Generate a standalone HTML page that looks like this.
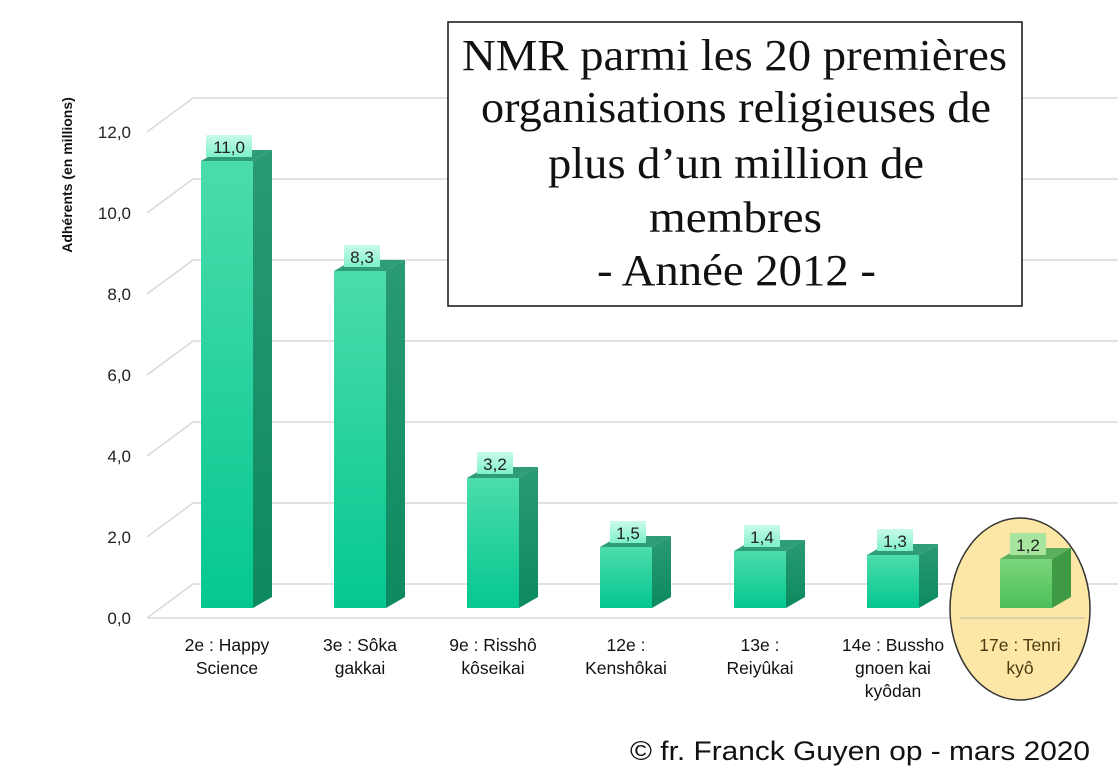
<!DOCTYPE html>
<html><head><meta charset="utf-8"><style>
body{margin:0;background:#fff;width:1118px;height:778px;overflow:hidden}
svg{display:block}
</style></head><body>
<svg width="1118" height="778" xmlns="http://www.w3.org/2000/svg" font-family="Liberation Sans, Arial, sans-serif">
<defs>
<linearGradient id="f" x1="0" y1="0" x2="0" y2="1"><stop offset="0" stop-color="#4cdcac"/><stop offset="1" stop-color="#04c78f"/></linearGradient>
<linearGradient id="s" x1="0" y1="0" x2="0" y2="1"><stop offset="0" stop-color="#2a9a74"/><stop offset="1" stop-color="#0c8a60"/></linearGradient>
<linearGradient id="g" x1="0" y1="0" x2="0" y2="1"><stop offset="0" stop-color="#7ad57a"/><stop offset="1" stop-color="#4dbf5a"/></linearGradient>
<linearGradient id="lb" x1="0" y1="0" x2="0" y2="1"><stop offset="0" stop-color="#c8fbea"/><stop offset="1" stop-color="#7ff0cc"/></linearGradient>
</defs>
<g stroke="#d9d9d9" stroke-width="1.5" fill="none">
<line x1="193" y1="584" x2="1118" y2="584"/><line x1="147" y1="618" x2="193" y2="584"/>
<line x1="193" y1="503" x2="1118" y2="503"/><line x1="147" y1="537" x2="193" y2="503"/>
<line x1="193" y1="422" x2="1118" y2="422"/><line x1="147" y1="456" x2="193" y2="422"/>
<line x1="193" y1="341" x2="1118" y2="341"/><line x1="147" y1="375" x2="193" y2="341"/>
<line x1="193" y1="260" x2="1118" y2="260"/><line x1="147" y1="294" x2="193" y2="260"/>
<line x1="193" y1="179" x2="1118" y2="179"/><line x1="147" y1="213" x2="193" y2="179"/>
<line x1="193" y1="98" x2="1118" y2="98"/><line x1="147" y1="132" x2="193" y2="98"/>
<line x1="147" y1="618" x2="1085" y2="618"/>
</g>
<g font-size="17" fill="#222" text-anchor="end">
<text x="131" y="624">0,0</text><text x="131" y="543">2,0</text><text x="131" y="462">4,0</text>
<text x="131" y="381">6,0</text><text x="131" y="300">8,0</text><text x="131" y="219">10,0</text><text x="131" y="138">12,0</text>
</g>
<text transform="translate(72,175) rotate(-90)" font-size="14" font-weight="bold" text-anchor="middle" fill="#111">Adhérents (en millions)</text>
<ellipse cx="1020" cy="609" rx="70" ry="91" fill="#fde7a6" stroke="#333" stroke-width="1.5"/>
<line x1="960" y1="618" x2="1085" y2="618" stroke="#d0c8a8" stroke-width="1.5"/>

<polygon points="253,161 272,150 272,597 253,608" fill="url(#s)"/>
<polygon points="201,161 220,150 272,150 253,161" fill="#2f9e78"/>
<rect x="201" y="161" width="52" height="447" fill="url(#f)"/>
<rect x="206" y="135" width="46" height="22" fill="url(#lb)"/>
<text x="229" y="153" font-size="17" text-anchor="middle" fill="#222">11,0</text>

<polygon points="386,271 405,260 405,597 386,608" fill="url(#s)"/>
<polygon points="334,271 353,260 405,260 386,271" fill="#2f9e78"/>
<rect x="334" y="271" width="52" height="337" fill="url(#f)"/>
<rect x="344" y="245" width="36" height="22" fill="url(#lb)"/>
<text x="362" y="263" font-size="17" text-anchor="middle" fill="#222">8,3</text>

<polygon points="519,478 538,467 538,597 519,608" fill="url(#s)"/>
<polygon points="467,478 486,467 538,467 519,478" fill="#2f9e78"/>
<rect x="467" y="478" width="52" height="130" fill="url(#f)"/>
<rect x="477" y="452" width="36" height="22" fill="url(#lb)"/>
<text x="495" y="470" font-size="17" text-anchor="middle" fill="#222">3,2</text>

<polygon points="652,547 671,536 671,597 652,608" fill="url(#s)"/>
<polygon points="600,547 619,536 671,536 652,547" fill="#2f9e78"/>
<rect x="600" y="547" width="52" height="61" fill="url(#f)"/>
<rect x="610" y="521" width="36" height="22" fill="url(#lb)"/>
<text x="628" y="539" font-size="17" text-anchor="middle" fill="#222">1,5</text>

<polygon points="786,551 805,540 805,597 786,608" fill="url(#s)"/>
<polygon points="734,551 753,540 805,540 786,551" fill="#2f9e78"/>
<rect x="734" y="551" width="52" height="57" fill="url(#f)"/>
<rect x="744" y="525" width="36" height="22" fill="url(#lb)"/>
<text x="762" y="543" font-size="17" text-anchor="middle" fill="#222">1,4</text>

<polygon points="919,555 938,544 938,597 919,608" fill="url(#s)"/>
<polygon points="867,555 886,544 938,544 919,555" fill="#2f9e78"/>
<rect x="867" y="555" width="52" height="53" fill="url(#f)"/>
<rect x="877" y="529" width="36" height="22" fill="url(#lb)"/>
<text x="895" y="547" font-size="17" text-anchor="middle" fill="#222">1,3</text>

<polygon points="1052,559 1071,548 1071,597 1052,608" fill="#3f9a44"/>
<polygon points="1000,559 1019,548 1071,548 1052,559" fill="#5ab05e"/>
<rect x="1000" y="559" width="52" height="49" fill="url(#g)"/>
<rect x="1010" y="533" width="36" height="22" fill="#a8e6a0"/>
<text x="1028" y="551" font-size="17" text-anchor="middle" fill="#222">1,2</text>

<g font-size="17.5" fill="#111" text-anchor="middle">
<text x="227" y="651">2e : Happy</text><text x="227" y="674">Science</text>
<text x="360" y="651">3e : Sôka</text><text x="360" y="674">gakkai</text>
<text x="493" y="651">9e : Risshô</text><text x="493" y="674">kôseikai</text>
<text x="626" y="651">12e :</text><text x="626" y="674">Kenshôkai</text>
<text x="760" y="651">13e :</text><text x="760" y="674">Reiyûkai</text>
<text x="893" y="651">14e : Bussho</text><text x="893" y="674">gnoen kai</text><text x="893" y="697">kyôdan</text>
<text x="1020" y="651" fill="#4a3a10">17e : Tenri</text><text x="1020" y="674" fill="#4a3a10">kyô</text>
</g>
<rect x="448" y="22" width="574" height="284" fill="#fff" stroke="#111" stroke-width="1.5"/>
<g font-family="Liberation Serif, serif" font-size="44" fill="#111">
<text x="462" y="70" textLength="545" lengthAdjust="spacingAndGlyphs">NMR parmi les 20 premières</text>
<text x="481" y="122" textLength="510" lengthAdjust="spacingAndGlyphs">organisations religieuses de</text>
<text x="548" y="178" textLength="376" lengthAdjust="spacingAndGlyphs">plus d’un million de</text>
<text x="649" y="232" textLength="173" lengthAdjust="spacingAndGlyphs">membres</text>
<text x="597" y="285" textLength="279" lengthAdjust="spacingAndGlyphs">- Année 2012 -</text>
</g>
<text x="630" y="760" font-size="27" textLength="460" lengthAdjust="spacingAndGlyphs" fill="#111">© fr. Franck Guyen op - mars 2020</text>
</svg>
</body></html>
